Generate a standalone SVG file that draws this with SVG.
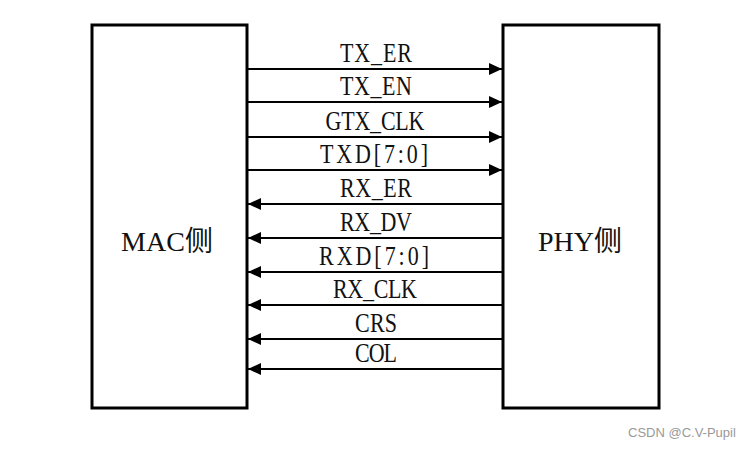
<svg xmlns="http://www.w3.org/2000/svg" width="756" height="449" viewBox="0 0 756 449">
<style>
.box{fill:#fff;stroke:#000;stroke-width:3}
.ln{stroke:#000;stroke-width:2;fill:none}
.lbl{font-family:"Liberation Serif",serif;font-size:22px;fill:#111;text-anchor:middle}
.big{font-family:"Liberation Serif","Noto Sans CJK SC",serif;font-size:28px;fill:#111;text-anchor:middle}
.wm{font-family:"Liberation Sans",sans-serif;font-size:13px;fill:#999}
</style>
<defs>
<marker id="ah" markerUnits="userSpaceOnUse" markerWidth="14" markerHeight="12" refX="13" refY="6" orient="auto">
<path d="M0,0 L13,6 L0,12 Z" fill="#000"/>
</marker>
</defs>
<rect width="756" height="449" fill="#fff"/>
<g id="mac"><rect class="box" x="92" y="25" width="155" height="383"/><text class="big" x="167" y="251">MAC侧</text></g>
<g id="phy"><rect class="box" x="503" y="25" width="156" height="383"/><text class="big" x="580" y="251">PHY侧</text></g>
<g id="connectors">
<line class="ln" x1="248" y1="69" x2="502" y2="69" marker-end="url(#ah)"/>
<line class="ln" x1="248" y1="102" x2="502" y2="102" marker-end="url(#ah)"/>
<line class="ln" x1="248" y1="137" x2="502" y2="137" marker-end="url(#ah)"/>
<line class="ln" x1="248" y1="170" x2="502" y2="170" marker-end="url(#ah)"/>
<line class="ln" x1="502" y1="204" x2="248" y2="204" marker-end="url(#ah)"/>
<line class="ln" x1="502" y1="238" x2="248" y2="238" marker-end="url(#ah)"/>
<line class="ln" x1="502" y1="272" x2="248" y2="272" marker-end="url(#ah)"/>
<line class="ln" x1="502" y1="305" x2="248" y2="305" marker-end="url(#ah)"/>
<line class="ln" x1="502" y1="339" x2="248" y2="339" marker-end="url(#ah)"/>
<line class="ln" x1="502" y1="369" x2="248" y2="369" marker-end="url(#ah)"/>
<text class="lbl" transform="translate(376 62) scale(1 1.2)" textLength="72" lengthAdjust="spacing">TX_ER</text>
<text class="lbl" transform="translate(376 95) scale(1 1.2)" textLength="72" lengthAdjust="spacing">TX_EN</text>
<text class="lbl" transform="translate(375 130) scale(1 1.2)" textLength="99" lengthAdjust="spacing">GTX_CLK</text>
<text class="lbl" transform="translate(374 163) scale(1 1.2)" textLength="108" lengthAdjust="spacing">TXD[7:0]</text>
<text class="lbl" transform="translate(376 197) scale(1 1.2)" textLength="72" lengthAdjust="spacing">RX_ER</text>
<text class="lbl" transform="translate(376 231) scale(1 1.2)" textLength="72" lengthAdjust="spacing">RX_DV</text>
<text class="lbl" transform="translate(374 265) scale(1 1.2)" textLength="110" lengthAdjust="spacing">RXD[7:0]</text>
<text class="lbl" transform="translate(375 298) scale(1 1.2)" textLength="84" lengthAdjust="spacing">RX_CLK</text>
<text class="lbl" transform="translate(376 332) scale(1 1.2)" textLength="42" lengthAdjust="spacing">CRS</text>
<text class="lbl" transform="translate(376 362) scale(1 1.2)" textLength="42" lengthAdjust="spacing">COL</text>
</g>
<text class="wm" x="628" y="437">CSDN @C.V-Pupil</text>
</svg>
